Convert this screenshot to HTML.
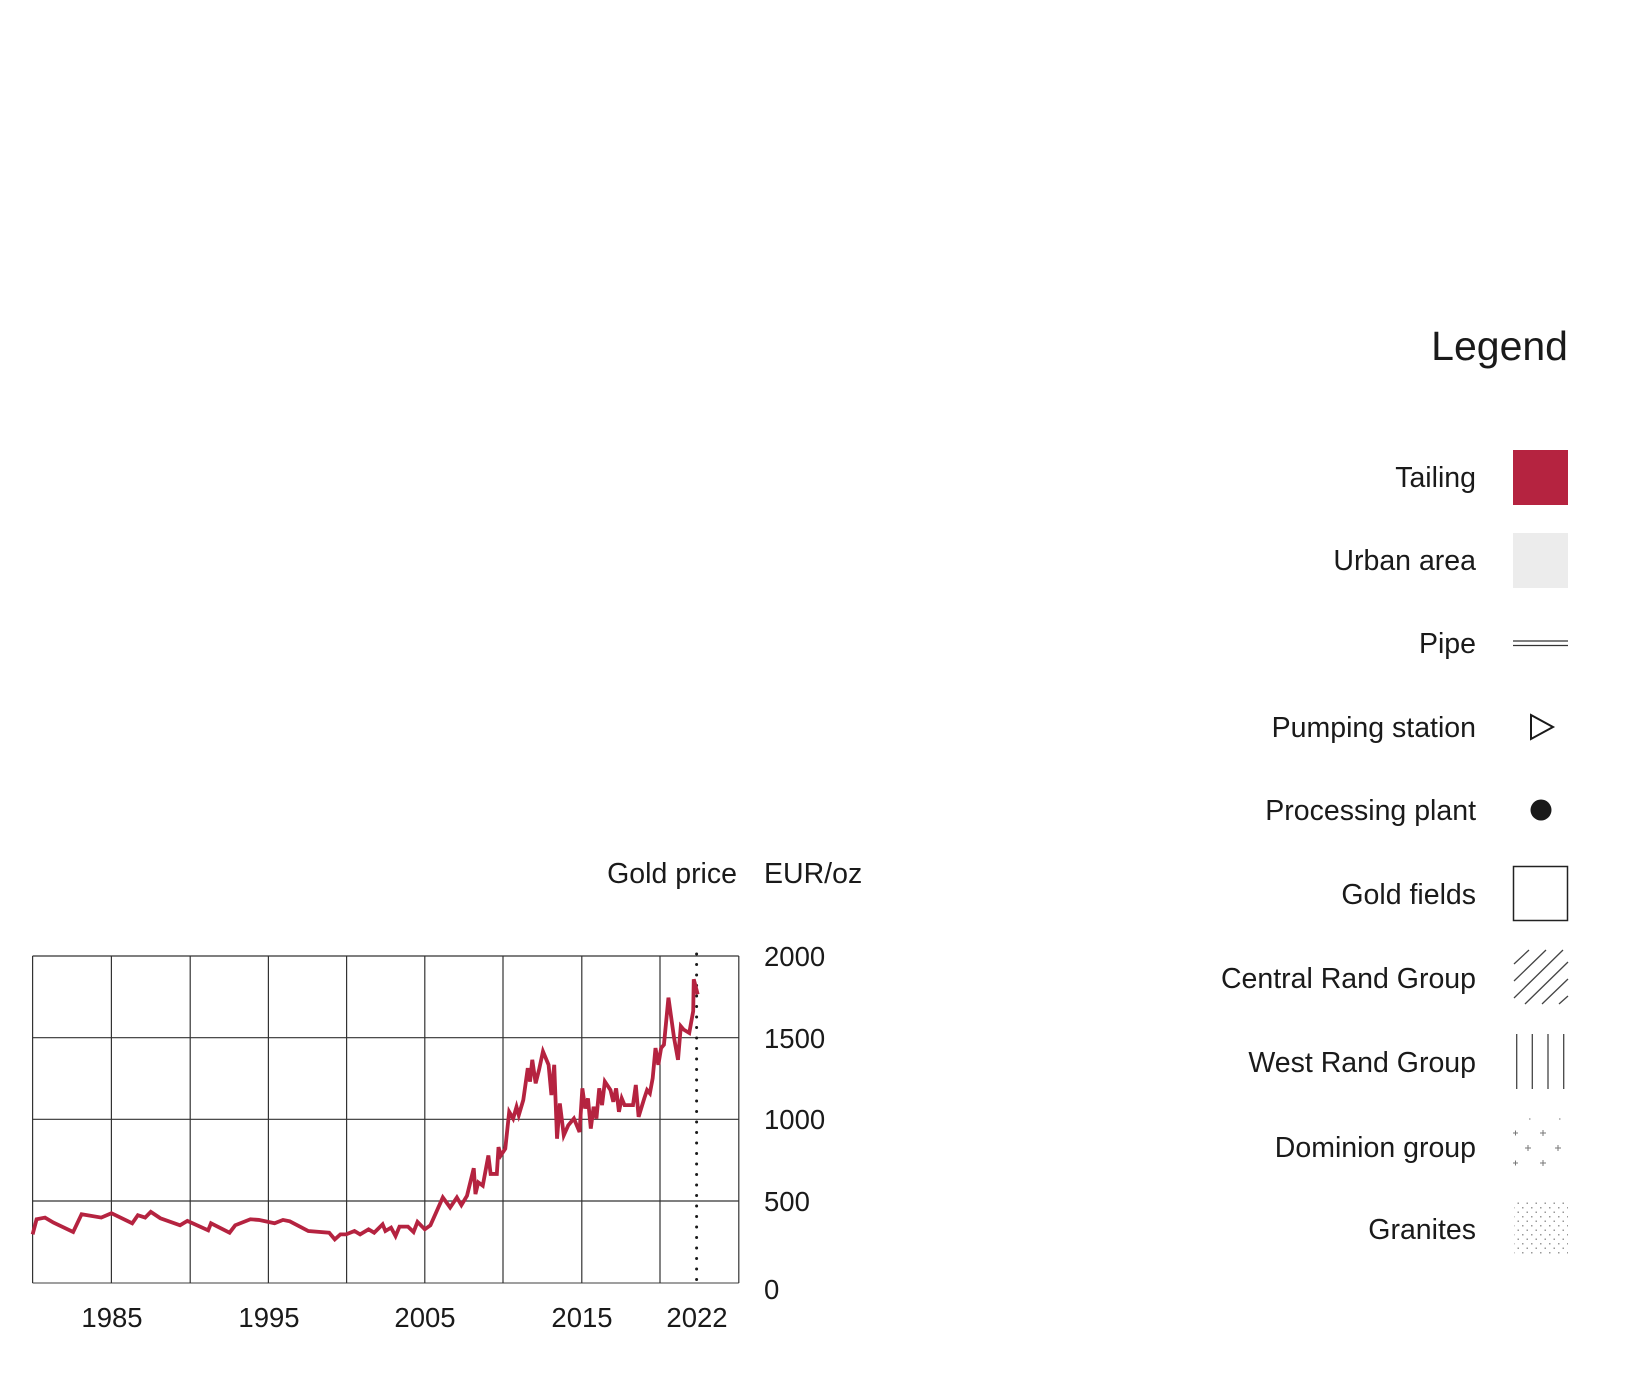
<!DOCTYPE html>
<html><head><meta charset="utf-8"><style>
html,body{margin:0;padding:0;background:#fff;}
svg{display:block;font-family:"Liberation Sans",sans-serif;fill:#1a1a1a;}
</style></head><body>
<svg width="1649" height="1375" viewBox="0 0 1649 1375" xmlns="http://www.w3.org/2000/svg">
<defs>
<pattern id="gran" width="9" height="9" patternUnits="userSpaceOnUse"><rect x="1" y="1" width="1.5" height="1.5" fill="#999"/><rect x="5.5" y="5.5" width="1.5" height="1.5" fill="#999"/></pattern>
</defs>
<g stroke="#333" stroke-width="1.2" fill="none">
<line x1="32.6" y1="956" x2="738.8" y2="956"/>
<line x1="32.6" y1="1037.7" x2="738.8" y2="1037.7"/>
<line x1="32.6" y1="1119.3" x2="738.8" y2="1119.3"/>
<line x1="32.6" y1="1201" x2="738.8" y2="1201"/>
<line x1="32.6" y1="1283" x2="738.8" y2="1283" stroke="#666"/>
<line x1="32.6" y1="956" x2="32.6" y2="1283"/>
<line x1="111.4" y1="956" x2="111.4" y2="1283"/>
<line x1="190.2" y1="956" x2="190.2" y2="1283"/>
<line x1="268.4" y1="956" x2="268.4" y2="1283"/>
<line x1="346.6" y1="956" x2="346.6" y2="1283"/>
<line x1="424.8" y1="956" x2="424.8" y2="1283"/>
<line x1="503" y1="956" x2="503" y2="1283"/>
<line x1="581.8" y1="956" x2="581.8" y2="1283"/>
<line x1="660" y1="956" x2="660" y2="1283"/>
<line x1="738.8" y1="956" x2="738.8" y2="1283"/>
</g>
<line x1="696.6" y1="954" x2="696.6" y2="1286" stroke="#1a1a1a" stroke-width="3" stroke-linecap="round" stroke-dasharray="0 10.5"/>
<g transform="translate(0,850) scale(0.56266,0.33568)">
<polyline fill="none" stroke="#b52340" stroke-width="3.8" vector-effect="non-scaling-stroke" points="58,1145 65,1100 80,1095 95,1110 130,1138 145,1085 180,1095 198,1082 235,1112 245,1088 258,1095 268,1078 285,1097 320,1118 333,1105 370,1133 375,1112 408,1140 418,1118 445,1100 460,1102 488,1112 503,1102 515,1106 548,1135 585,1140 595,1160 605,1145 615,1145 630,1135 640,1145 655,1130 665,1140 680,1115 685,1135 695,1125 703,1150 710,1122 725,1122 735,1138 742,1108 755,1130 765,1118 787,1035 800,1065 812,1035 820,1058 830,1030 842,948 845,1025 850,990 858,1000 868,910 872,965 883,965 886,885 890,910 898,890 905,780 912,800 918,765 922,790 930,745 938,650 942,690 946,625 952,695 958,655 965,600 975,640 980,730 985,640 990,860 995,755 1002,850 1010,820 1020,800 1030,840 1035,710 1040,770 1045,740 1050,830 1055,765 1060,800 1065,710 1070,760 1075,690 1085,715 1090,750 1095,710 1100,780 1105,740 1110,760 1125,760 1130,700 1135,795 1145,740 1150,715 1155,725 1160,680 1165,590 1170,640 1175,590 1180,580 1188,440 1198,560 1205,625 1210,525 1215,535 1225,545 1232,480 1233,385 1240,430"/>
</g>
<g font-size="28.5">
<text x="737" y="883" text-anchor="end">Gold price</text>
<text x="764" y="883">EUR/oz</text>
</g>
<g font-size="27.5">
<text x="764" y="966">2000</text>
<text x="764" y="1048">1500</text>
<text x="764" y="1129">1000</text>
<text x="764" y="1211">500</text>
<text x="764" y="1299">0</text>
<text x="112" y="1327" text-anchor="middle">1985</text>
<text x="269" y="1327" text-anchor="middle">1995</text>
<text x="425" y="1327" text-anchor="middle">2005</text>
<text x="582" y="1327" text-anchor="middle">2015</text>
<text x="697" y="1327" text-anchor="middle">2022</text>
</g>
<text x="1568" y="360" font-size="41" text-anchor="end">Legend</text>
<g font-size="28.5" text-anchor="end">
<text x="1476" y="487">Tailing</text>
<text x="1476" y="570">Urban area</text>
<text x="1476" y="653">Pipe</text>
<text x="1476" y="737">Pumping station</text>
<text x="1476" y="820">Processing plant</text>
<text x="1476" y="904">Gold fields</text>
<text x="1476" y="988">Central Rand Group</text>
<text x="1476" y="1072">West Rand Group</text>
<text x="1476" y="1157">Dominion group</text>
<text x="1476" y="1239">Granites</text>
</g>
<rect x="1513" y="450" width="55" height="55" fill="#b52340"/>
<rect x="1513" y="533" width="55" height="55" fill="#ececec"/>
<line x1="1513" y1="641" x2="1568" y2="641" stroke="#333" stroke-width="1.2"/>
<line x1="1513" y1="645.5" x2="1568" y2="645.5" stroke="#333" stroke-width="1.2"/>
<polygon points="1531,715 1553,727 1531,739" fill="none" stroke="#1a1a1a" stroke-width="2"/>
<circle cx="1541" cy="810" r="10.5" fill="#1a1a1a"/>
<rect x="1513.5" y="866.5" width="54" height="54" fill="none" stroke="#222" stroke-width="1.5"/>
<g stroke="#444" stroke-width="1.3">
<line x1="1514" y1="964" x2="1529" y2="950"/>
<line x1="1514" y1="981" x2="1546" y2="950"/>
<line x1="1514" y1="998" x2="1563" y2="950"/>
<line x1="1525" y1="1004" x2="1568" y2="962"/>
<line x1="1542" y1="1004" x2="1568" y2="979"/>
<line x1="1559" y1="1004" x2="1568" y2="996"/>
<line x1="1516.7" y1="1034" x2="1516.7" y2="1089"/>
<line x1="1532.3" y1="1034" x2="1532.3" y2="1089"/>
<line x1="1548" y1="1034" x2="1548" y2="1089"/>
<line x1="1563.7" y1="1034" x2="1563.7" y2="1089"/>
</g>
<g stroke="#777" stroke-width="1">
<path d="M1513 1133h5M1515.5 1130.5v5 M1540 1133h6M1543 1130v6 M1525 1148h6M1528 1145v6 M1555 1148h6M1558 1145v6 M1513 1163h5M1515.5 1160.5v5 M1540 1163h6M1543 1160v6"/>
<path d="M1529 1119h1.5M1559 1119h1.5"/>
</g>
<rect x="1514" y="1202" width="54" height="52" fill="url(#gran)"/>
</svg>
</body></html>
